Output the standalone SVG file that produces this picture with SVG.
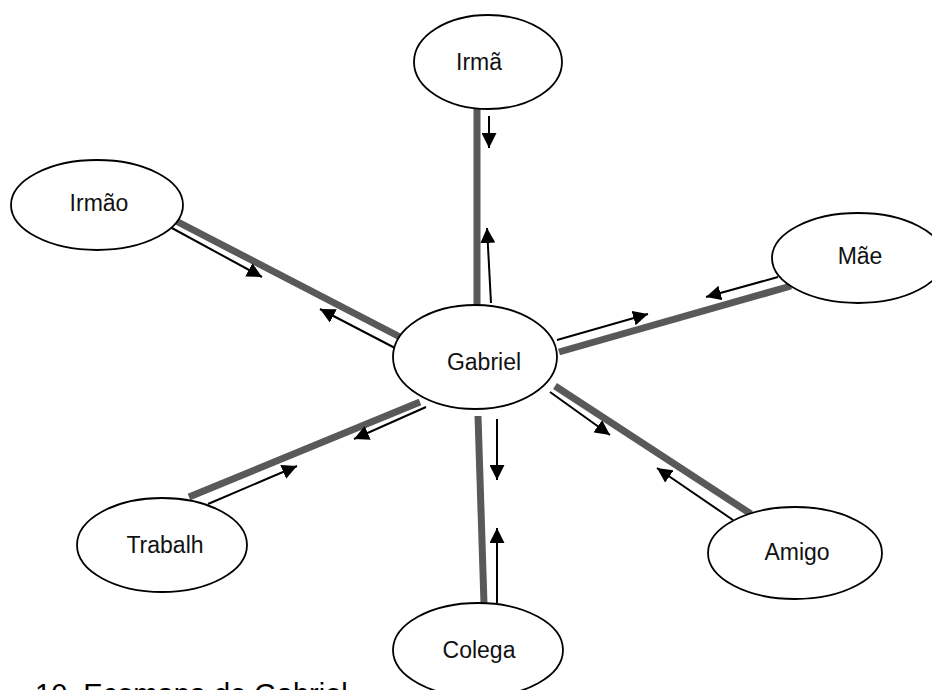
<svg xmlns="http://www.w3.org/2000/svg" width="932" height="690" viewBox="0 0 932 690">
  <defs>
    <style>
      .node { fill: #ffffff; stroke: #000000; stroke-width: 1.8; }
      .label { font-family: "Liberation Sans", Arial, sans-serif; font-size: 23px; fill: #111111; text-anchor: middle; }
      .bond { stroke: #595959; stroke-width: 7; fill: none; }
      .flow { stroke: #000000; stroke-width: 2; fill: none; marker-end: url(#head); }
      .caption { font-family: "Liberation Sans", Arial, sans-serif; font-size: 29px; fill: #000000; }
    </style>
    <marker id="head" viewBox="0 0 10 10" refX="10" refY="5" markerWidth="7.5" markerHeight="7.5" orient="auto" markerUnits="strokeWidth">
      <path d="M0,0 L10,5 L0,10 Z" fill="#000000"/>
    </marker>
  </defs>

  <rect width="932" height="690" fill="#ffffff"/>

  <!-- ties and exchange arrows -->
  <g id="connectors">
    <!-- Irmã -->
    <line class="bond" x1="477" y1="108" x2="477" y2="306"/>
    <line class="flow" x1="489" y1="116" x2="489" y2="148"/>
    <line class="flow" x1="491" y1="303" x2="487" y2="228"/>
    <!-- Irmão -->
    <line class="bond" x1="176" y1="221" x2="400" y2="337"/>
    <line class="flow" x1="170" y1="227" x2="262" y2="277"/>
    <line class="flow" x1="395" y1="348" x2="320" y2="309"/>
    <!-- Mãe -->
    <line class="bond" x1="559" y1="352" x2="791" y2="286"/>
    <line class="flow" x1="557" y1="340" x2="648" y2="314"/>
    <line class="flow" x1="778" y1="277" x2="706" y2="297"/>
    <!-- Trabalh -->
    <line class="bond" x1="189" y1="497" x2="420" y2="402"/>
    <line class="flow" x1="208" y1="504" x2="297" y2="466"/>
    <line class="flow" x1="426" y1="407" x2="354" y2="439"/>
    <!-- Colega -->
    <line class="bond" x1="478" y1="416" x2="484" y2="604"/>
    <line class="flow" x1="497" y1="419" x2="497" y2="480"/>
    <line class="flow" x1="497" y1="603" x2="497" y2="528"/>
    <!-- Amigo -->
    <line class="bond" x1="555" y1="386" x2="751" y2="514"/>
    <line class="flow" x1="550" y1="392" x2="610" y2="435"/>
    <line class="flow" x1="733" y1="520" x2="657" y2="468"/>
  </g>

  <g id="irma">
    <ellipse class="node" cx="488" cy="62" rx="74" ry="47"/>
    <text class="label" x="479" y="70">Irmã</text>
  </g>
  <g id="irmao">
    <ellipse class="node" cx="97" cy="205" rx="86" ry="45"/>
    <text class="label" x="99" y="211">Irmão</text>
  </g>
  <g id="mae">
    <ellipse class="node" cx="858" cy="258" rx="86" ry="45"/>
    <text class="label" x="860" y="264">Mãe</text>
  </g>
  <g id="gabriel">
    <ellipse class="node" cx="475" cy="357" rx="82" ry="52"/>
    <text class="label" x="484" y="370">Gabriel</text>
  </g>
  <g id="trabalho">
    <ellipse class="node" cx="162" cy="545" rx="85" ry="47"/>
    <text class="label" x="165" y="553">Trabalh</text>
  </g>
  <g id="amigo">
    <ellipse class="node" cx="795" cy="553" rx="87" ry="46"/>
    <text class="label" x="797" y="560">Amigo</text>
  </g>
  <g id="colega">
    <ellipse class="node" cx="478" cy="650" rx="85" ry="47"/>
    <text class="label" x="479" y="658">Colega</text>
  </g>

  <text class="caption" x="35" y="704">10. Ecomapa de Gabriel</text>
</svg>
